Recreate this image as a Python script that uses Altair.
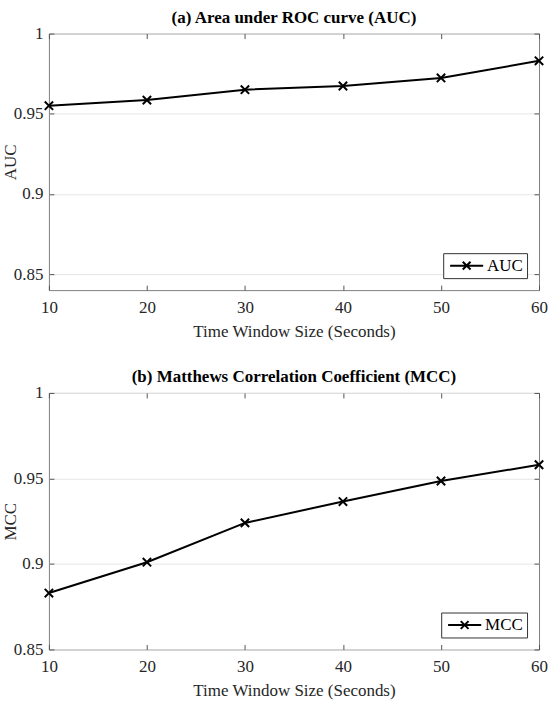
import altair as alt
import pandas as pd

windows = [10, 20, 30, 40, 50, 60]
auc_values = [0.955, 0.9585, 0.965, 0.9673, 0.9723, 0.983]
mcc_values = [0.883, 0.901, 0.924, 0.9365, 0.9485, 0.958]
x_ticks = [10, 20, 30, 40, 50, 60]
auc_ticks = [0.85, 0.9, 0.95, 1.0]
mcc_ticks = [0.85, 0.9, 0.95, 1.0]
auc_domain = [0.84, 1.0]
mcc_domain = [0.85, 1.0]
titles = ["(a) Area under ROC curve (AUC)", "(b) Matthews Correlation Coefficient (MCC)"]
x_title = "Time Window Size (Seconds)"

W, H = 491, 257
FONT = "Liberation Serif"
XMARK = "M-1,-1L1,1M-1,1L1,-1"
LEGSYM = "M-2.55,0L2.55,0M-0.6,-0.6L0.6,0.6M-0.6,0.6L0.6,-0.6"


def panel(vals, name, title, ydom, yticks):
    df = pd.DataFrame({"w": windows, "v": vals, "s": [name] * len(vals)})
    base = alt.Chart(df)
    xs = alt.Scale(domain=[10, 60], nice=False, zero=False)
    ys = alt.Scale(domain=ydom, nice=False, zero=False)

    line = base.mark_line(strokeWidth=2).encode(
        x=alt.X("w:Q", scale=xs, axis=alt.Axis(
            values=x_ticks, title=x_title, ticks=False, tickSize=0, domain=False,
            grid=False, labelPadding=9, titlePadding=8, labelFlush=False,
            orient="bottom")),
        y=alt.Y("v:Q", scale=ys, axis=alt.Axis(
            values=yticks, format="~g", title=name, ticks=False, tickSize=0,
            domain=False, grid=True, gridColor="#e6e6e6", labelPadding=6,
            titlePadding=-6, orient="left")),
        color=alt.Color("s:N", scale=alt.Scale(range=["black"]), legend=alt.Legend(
            title=None, orient="bottom-right", offset=12,
            symbolType=LEGSYM, symbolSize=169, symbolStrokeWidth=2,
            symbolOffset=11, symbolStrokeColor="black", labelFont=FONT,
            labelFontSize=17, labelColor="black", strokeColor="#333333",
            fillColor="white", padding=4, labelOffset=12)),
    )
    pts = base.mark_point(shape=XMARK, filled=False, stroke="black",
                          strokeWidth=2, size=70, opacity=1).encode(
        x=alt.X("w:Q", scale=xs, axis=alt.Axis(
            values=x_ticks, labels=False, title=None, grid=False, domain=False,
            ticks=True, tickSize=5, offset=-5, orient="bottom")),
        y=alt.Y("v:Q", scale=ys, axis=alt.Axis(
            values=yticks, labels=False, title=None, grid=False, domain=False,
            ticks=True, tickSize=5, offset=-5, orient="left")),
    )
    pts2 = base.mark_point(opacity=0).encode(
        x=alt.X("w:Q", scale=xs, axis=alt.Axis(
            values=x_ticks, labels=False, title=None, grid=False, domain=False,
            ticks=True, tickSize=5, offset=-H, orient="bottom")),
        y=alt.Y("v:Q", scale=ys, axis=alt.Axis(
            values=yticks, labels=False, title=None, grid=False, domain=False,
            ticks=True, tickSize=5, offset=-W, orient="left")),
    )
    return alt.layer(line, pts2, pts).resolve_axis(
        x="independent", y="independent"
    ).properties(
        width=W, height=H,
        title=alt.TitleParams(title, font=FONT, fontSize=17, fontWeight="bold",
                              color="black", offset=-2, anchor="middle"),
    )


top = panel(auc_values, "AUC", titles[0], auc_domain, auc_ticks)
bottom = panel(mcc_values, "MCC", titles[1], mcc_domain, mcc_ticks)

chart = alt.vconcat(top, bottom, spacing=27).resolve_scale(
    color="independent"
).resolve_legend(
    color="independent"
).configure(
    padding={"left": 0, "top": 7, "right": 4, "bottom": 4}
).configure_view(
    stroke="#808080", strokeWidth=1
).configure_axis(
    labelFont=FONT, labelFontSize=17, labelColor="#262626",
    titleFont=FONT, titleFontSize=17, titleFontWeight="normal", titleColor="#262626",
    tickColor="#555555", tickWidth=1,
)

chart.save("out.html", embed_options={"renderer": "svg", "actions": False})
